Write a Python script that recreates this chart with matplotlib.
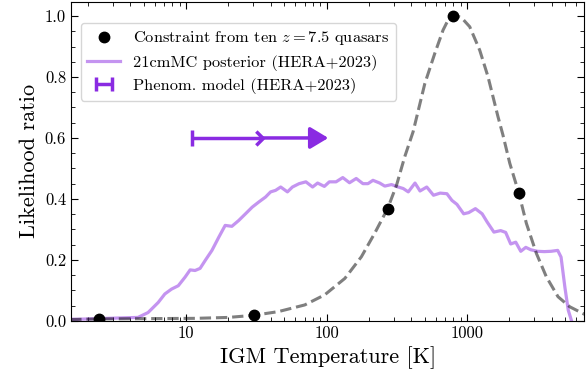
import numpy as np
import matplotlib
matplotlib.use("Agg")
import matplotlib.pyplot as plt
from matplotlib.path import Path
from matplotlib.ticker import FixedLocator, FuncFormatter, MultipleLocator, LogLocator

plt.rcParams['font.family'] = 'serif'
plt.rcParams['font.serif'] = ['cmr10']
plt.rcParams['mathtext.fontset'] = 'cm'
plt.rcParams['axes.formatter.use_mathtext'] = True

# ---- quasar constraint (black dots) ----
T_quasar = [2.4, 30.5, 272, 790, 2340]
L_quasar = [0.006, 0.018, 0.368, 1.0, 0.418]

# ---- smooth dashed curve through the quasar constraint ----
T_fit = [1.5, 2.4, 5, 11.6, 20, 30.4, 45.3, 70, 97, 135, 177, 220, 272, 315, 360,
         413, 501, 590, 675, 735, 790, 850, 912, 1045, 1231, 1410, 1660, 1800,
         2014, 2340, 2643, 3116, 3670, 4440, 5380, 6800, 7200]
L_fit = [0.004, 0.006, 0.007, 0.008, 0.011, 0.018, 0.030, 0.052, 0.085, 0.139,
         0.21, 0.287, 0.368, 0.445, 0.538, 0.62, 0.779, 0.878, 0.954, 0.988, 1.0,
         1.0, 0.995, 0.965, 0.888, 0.801, 0.67, 0.61, 0.517, 0.418, 0.32, 0.221,
         0.144, 0.079, 0.046, 0.022, 0.019]

# ---- 21cmMC posterior (HERA+2023) ----
T_21cm = [1.5, 1.69, 4.55, 5.37, 6.34, 7.07, 7.89, 8.81, 9.84, 10.7, 11.6, 12.6,
          13.7, 15.3, 17.1, 19.0, 21.2, 23.7, 26.5, 29.6, 33.0, 36.8, 40.0, 43.4,
          47.2, 52.7, 57.2, 63.8, 71.3, 79.6, 86.4, 96.5, 104.7, 116.9, 130.5,
          145.7, 162.7, 181.6, 197.2, 214.1, 239.1, 259.8, 290, 323.8, 351.6,
          381.8, 426.3, 462.8, 516.8, 577, 644, 719, 780.8, 847.7, 946.3, 1028,
          1147, 1281, 1391, 1553, 1734, 1883, 2045, 2221, 2412, 2619, 2844, 3175,
          3545, 3958, 4418, 4667, 4970, 5250, 5540]
L_21cm = [0.005, 0.005, 0.011, 0.027, 0.060, 0.088, 0.104, 0.115, 0.143, 0.167,
          0.165, 0.172, 0.198, 0.231, 0.274, 0.313, 0.310, 0.329, 0.351, 0.373,
          0.390, 0.406, 0.423, 0.428, 0.439, 0.423, 0.439, 0.450, 0.456, 0.439,
          0.452, 0.441, 0.456, 0.456, 0.470, 0.453, 0.467, 0.450, 0.450, 0.461,
          0.452, 0.442, 0.447, 0.439, 0.434, 0.423, 0.452, 0.426, 0.439, 0.412,
          0.419, 0.417, 0.395, 0.382, 0.351, 0.355, 0.368, 0.351, 0.324, 0.291,
          0.296, 0.290, 0.252, 0.258, 0.228, 0.241, 0.233, 0.228, 0.227, 0.228,
          0.231, 0.209, 0.110, 0.035, 0.0]

# ---- phenomenological model lower limit ----
phen_T = 11.0
phen_err = 22.6
phen_tip = 103.0
phen_L = 0.6

purple = '#8A2BE2'

fig = plt.figure(figsize=(5.87, 3.73), dpi=100)
ax = fig.add_axes([0.121, 0.14, 0.8747, 0.8553])

ax.plot(T_fit, L_fit, ls='--', color='k', alpha=0.5, lw=2.2, zorder=3)
ax.plot(T_21cm, L_21cm, color=purple, alpha=0.5, lw=2.3, zorder=2,
        label='21cmMC posterior (HERA+2023)')
ax.plot(T_quasar, L_quasar, 'o', color='k', ms=7.5, zorder=5,
        label=r'Constraint from ten $z=7.5$ quasars')

eb = ax.errorbar([phen_T], [phen_L], xerr=[phen_err], xlolims=True, fmt='none',
                 ecolor=purple, elinewidth=2.5, capsize=6, capthick=2.5, zorder=4,
                 label='Phenom. model (HERA+2023)')
# swap the filled caret for a thin chevron
chevron = Path([(-0.6, 1.0), (0.4, 0.0), (-0.6, -1.0)],
               [Path.MOVETO, Path.LINETO, Path.LINETO])
for cl in eb[1]:
    if cl.get_marker() != '|':
        cl.set_marker(chevron)
        cl.set_markersize(10)
        cl.set_markerfacecolor('none')
        cl.set_markeredgewidth(2.5)

ax.annotate('', xy=(phen_tip, phen_L), xytext=(phen_T + phen_err, phen_L),
            arrowprops=dict(arrowstyle='-|>,head_length=0.55,head_width=0.33',
                            color=purple, lw=2.5, mutation_scale=20,
                            shrinkA=0, shrinkB=0), zorder=4)

ax.set_xscale('log')
ax.set_xlim(1.52, 6850)
ax.set_ylim(0, 1.047)

ax.xaxis.set_major_locator(FixedLocator([10, 100, 1000]))
ax.xaxis.set_major_formatter(FuncFormatter(lambda v, p: '%d' % v))
ax.xaxis.set_minor_locator(LogLocator(base=10, subs=np.arange(2, 10), numticks=20))
ax.yaxis.set_major_locator(MultipleLocator(0.2))
ax.yaxis.set_minor_locator(MultipleLocator(0.05))
ax.yaxis.set_major_formatter(FuncFormatter(lambda v, p: '%.1f' % v))

ax.tick_params(which='both', direction='in', top=True, right=True, labelsize=12)
ax.tick_params(which='major', length=5)
ax.tick_params(which='minor', length=3)

ax.set_xlabel('IGM Temperature [K]', fontsize=16)
ax.set_ylabel('Likelihood ratio', fontsize=16)

h, l = ax.get_legend_handles_labels()
order = [1, 0, 2]
ax.legend([h[i] for i in order], [l[i] for i in order], loc='upper left',
          bbox_to_anchor=(0.019, 0.934), borderaxespad=0, fontsize=11.8,
          handlelength=2.0, labelspacing=0.45)

fig.savefig('out.png', dpi=100)
